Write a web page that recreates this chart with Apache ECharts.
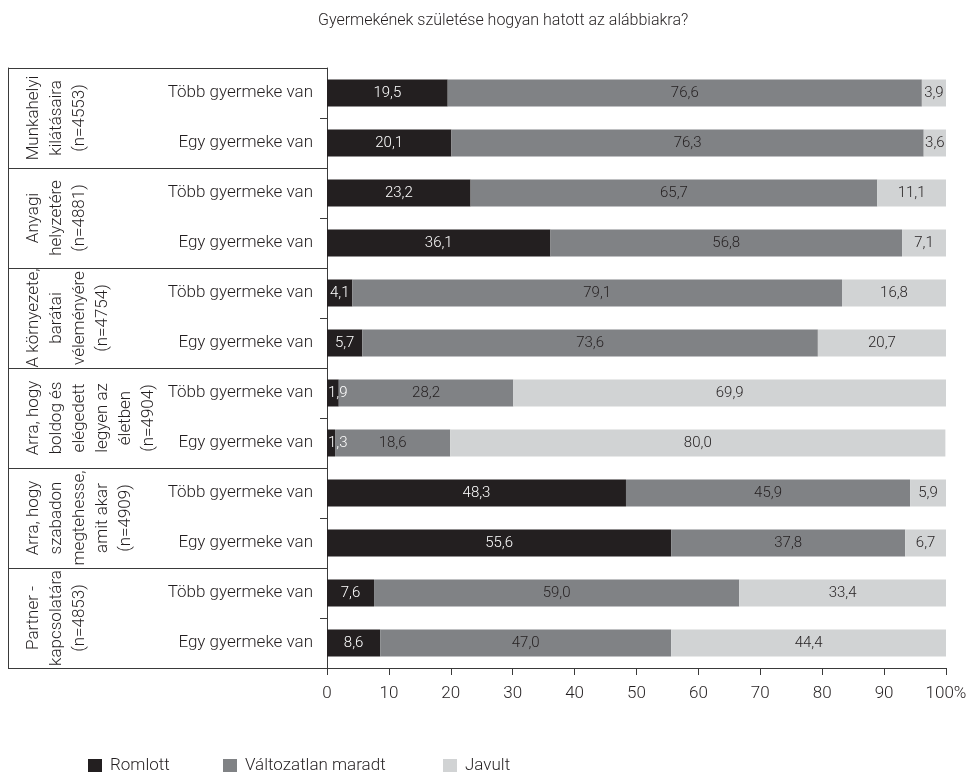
<!DOCTYPE html>
<html>
<head>
<meta charset="utf-8">
<script src="https://cdn.jsdelivr.net/npm/echarts@6/dist/echarts.min.js"></script>
<style>html,body{margin:0;padding:0;background:#fff;}#c{width:977px;height:773px;}</style>
</head>
<body>
<div id="c"></div>
<script>
const title = 'Gyermekének születése hogyan hatott az alábbiakra?';
const categories = [
  'Több gyermeke van','Egy gyermeke van',
  'Több gyermeke van','Egy gyermeke van',
  'Több gyermeke van','Egy gyermeke van',
  'Több gyermeke van','Egy gyermeke van',
  'Több gyermeke van','Egy gyermeke van',
  'Több gyermeke van','Egy gyermeke van'
];
const groups = [
  'Munkahelyi\nkilátásaira\n(n=4553)',
  'Anyagi\nhelyzetére\n(n=4881)',
  'A környezete,\nbarátai\nvéleményére\n(n=4754)',
  'Arra, hogy\nboldog és\nelégedett\nlegyen az\néletben\n(n=4904)',
  'Arra, hogy\nszabadon\nmegtehesse,\namit akar\n(n=4909)',
  'Partner -\nkapcsolatára\n(n=4853)'
];
const seriesNames = ['Romlott','Változatlan maradt','Javult'];
const romlott   = [19.5, 20.1, 23.2, 36.1, 4.1, 5.7, 1.9, 1.3, 48.3, 55.6, 7.6, 8.6];
const valtozatlan = [76.6, 76.3, 65.7, 56.8, 79.1, 73.6, 28.2, 18.6, 45.9, 37.8, 59.0, 47.0];
const javult    = [3.9, 3.6, 11.1, 7.1, 16.8, 20.7, 69.9, 80.0, 5.9, 6.7, 33.4, 44.4];
const xTicks = [0,10,20,30,40,50,60,70,80,90,100];

const colors = ['#231f20','#808285','#d1d3d4'];
const labelColors = ['#ffffff','#231f20','#231f20'];
const FONT = 'Roboto';
const txt = '#231f20';
const lineCol = '#3a3a3a';

const chart = echarts.init(document.getElementById('c'), null, {renderer:'canvas'});
const dataSets = [romlott, valtozatlan, javult];

const option = {
  animation: false,
  backgroundColor: '#fff',
  textStyle: {fontFamily: FONT, fontWeight: 300, color: txt},
  title: {
    text: title, left: 313, top: 8,
    textStyle: {fontFamily: FONT, fontWeight: 300, fontSize: 16, color: txt}
  },
  legend: seriesNames.map((n, i) => ({
    data: [n], left: [83, 218, 438][i], top: 752,
    itemWidth: 14, itemHeight: 13, icon: 'rect',
    textStyle: {fontFamily: FONT, fontWeight: 300, fontSize: 17, color: txt, padding: [0,0,0,3]}
  })),
  grid: {left: 327, right: 31, top: 68, bottom: 105, containLabel: false},
  xAxis: {
    type: 'value', min: 0, max: 100, interval: 10,
    axisLine: {show: true, lineStyle: {color: lineCol, width: 1}},
    axisTick: {show: true, length: 7, lineStyle: {color: lineCol}},
    splitLine: {show: false},
    axisLabel: {
      margin: 17, fontFamily: FONT, fontWeight: 300, fontSize: 17, color: txt,
      formatter: v => v === 100 ? '100%' : String(v)
    }
  },
  yAxis: [
    {
      type: 'category', data: categories, inverse: true,
      axisLine: {show: true, lineStyle: {color: lineCol, width: 1}},
      axisTick: {show: true, length: 7, lineStyle: {color: lineCol}},
      axisLabel: {margin: 14, fontFamily: FONT, fontWeight: 300, fontSize: 17, color: txt, interval: 0}
    },
    {
      type: 'category', data: groups, inverse: true, position: 'left', offset: 0,
      axisLine: {show: false},
      axisTick: {show: true, length: 319, lineStyle: {color: lineCol}},
      axisLabel: {show: false}
    },
    {
      type: 'category', data: groups, inverse: true, position: 'left', offset: 319,
      axisLine: {show: true, lineStyle: {color: lineCol, width: 1}},
      axisTick: {show: false},
      axisLabel: {
        show: true, inside: true, rotate: 90, margin: 14, interval: 0,
        fontFamily: FONT, fontWeight: 300, fontSize: 17, lineHeight: 23, color: txt, align: 'center'
      }
    }
  ],
  series: seriesNames.map((n, i) => ({
    name: n, type: 'bar', stack: 'total', yAxisIndex: 0,
    barWidth: 27,
    itemStyle: {color: colors[i]},
    label: {
      show: true, position: 'inside', color: labelColors[i],
      fontFamily: FONT, fontWeight: 300, fontSize: 15,
      formatter: p => p.value.toFixed(1).replace('.', ',')
    },
    data: dataSets[i].map(v => (i === 0 && v < 3)
      ? {value: v, label: {position: 'insideLeft', distance: 1}}
      : v)
  }))
};
chart.setOption(option);
</script>
</body>
</html>
